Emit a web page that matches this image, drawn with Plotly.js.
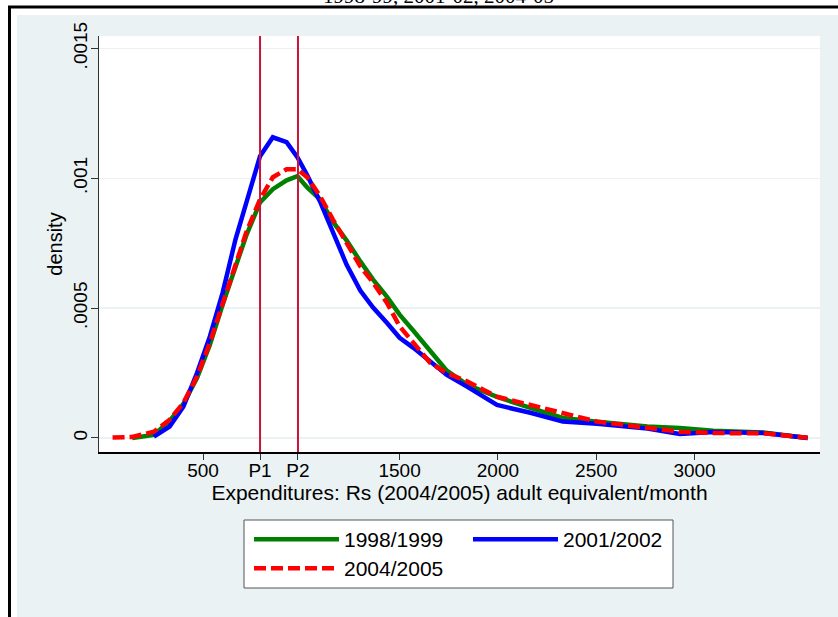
<!DOCTYPE html>
<html>
<head>
<meta charset="utf-8">
<script src="https://cdn.plot.ly/plotly-3.0.1.min.js"></script>
<style>html,body{margin:0;padding:0;background:#fff;}#chart{width:838px;height:617px;}</style>
</head>
<body>
<div id="chart"></div>
<script>
// Expenditure grid (Rs 2004/2005 adult equivalent / month)
const expenditure = [40,140,250,330,400,470,535,600,665,720,790,855,925,980,1030,1095,1160,1230,1300,1365,1435,1500,1570,1655,1740,1845,1995,2165,2330,2505,2760,2925,3095,3350,3575];
// Kernel density estimates
const density1998 = [null,0.000000,0.000012,0.000066,0.000131,0.000232,0.000359,0.000514,0.000656,0.000780,0.000907,0.000958,0.000992,0.001008,0.000965,0.000919,0.000834,0.000761,0.000680,0.000610,0.000544,0.000475,0.000413,0.000336,0.000259,0.000205,0.000158,0.000116,0.000077,0.000063,0.000044,0.000038,0.000028,0.000021,0.000000];
const density2001 = [null,null,0.000005,0.000044,0.000121,0.000251,0.000391,0.000560,0.000764,0.000907,0.001085,0.001158,0.001139,0.001081,0.001012,0.000911,0.000795,0.000668,0.000568,0.000502,0.000444,0.000386,0.000347,0.000295,0.000243,0.000197,0.000127,0.000097,0.000063,0.000055,0.000036,0.000015,0.000023,0.000019,0.000000];
const density2004 = [0.000002,0.000004,0.000024,0.000070,0.000135,0.000237,0.000367,0.000521,0.000675,0.000792,0.000919,0.001004,0.001035,0.001035,0.001004,0.000932,0.000842,0.000753,0.000661,0.000598,0.000521,0.000430,0.000366,0.000290,0.000250,0.000217,0.000159,0.000127,0.000093,0.000063,0.000039,0.000024,0.000019,0.000018,0.000001];
const seriesNames = ['1998/1999','2001/2002','2004/2005'];
const chartTitle = '1998-99, 2001-02, 2004-05';
// Poverty lines
const povertyLines = [790, 983];
const xTickVals = [500, 790, 983, 1500, 2000, 2500, 3000];
const xTickText = ['500','P1','P2','1500','2000','2500','3000'];
const yTickVals = [0, 0.0005, 0.001, 0.0015];
const yTickText = ['0','.0005','.001','.0015'];

// pixel helpers for frame decorations (plot area: x 99..820, y 36..452)
const L = 99, R = 820, T = 36, B = 452;
const px = v => (v - L) / (R - L);
const py = v => (B - v) / (B - T);

const font = 'Liberation Sans, Arial, sans-serif';

const traces = [
  {x: expenditure, y: density1998, name: seriesNames[0], mode: 'lines', line: {color: '#008000', width: 4.5}, legend: 'legend'},
  {x: expenditure, y: density2001, name: seriesNames[1], mode: 'lines', line: {color: '#0000ff', width: 4.5}, legend: 'legend2'},
  {x: expenditure, y: density2004, name: seriesNames[2], mode: 'lines', line: {color: '#ff0000', width: 4.5, dash: '12px,5px'}, legend: 'legend3'}
];

const shapes = [
  // white strips outside the graph region
  {type: 'rect', xref: 'paper', yref: 'paper', x0: px(0), x1: px(17), y0: py(0), y1: py(617), fillcolor: '#fff', line: {width: 0}, layer: 'below'},
  {type: 'rect', xref: 'paper', yref: 'paper', x0: px(0), x1: px(838), y0: py(0), y1: py(15), fillcolor: '#fff', line: {width: 0}, layer: 'below'},
  // black frame lines
  {type: 'line', xref: 'paper', yref: 'paper', x0: px(8), x1: px(838), y0: py(7), y1: py(7), line: {color: '#000', width: 3}},
  {type: 'line', xref: 'paper', yref: 'paper', x0: px(9.5), x1: px(9.5), y0: py(6), y1: py(617), line: {color: '#000', width: 3}},
  // legend box
  {type: 'rect', xref: 'paper', yref: 'paper', x0: px(244), x1: px(673), y0: py(520), y1: py(588), fillcolor: '#fff', line: {color: '#555', width: 1}, layer: 'below'}
];
povertyLines.forEach(p => shapes.push({type: 'line', xref: 'x', yref: 'paper', x0: p, x1: p, y0: 0, y1: 1, line: {color: '#c8143c', width: 2}, layer: 'above'}));

const legendBase = {xanchor: 'left', yanchor: 'top', orientation: 'v', bgcolor: 'rgba(0,0,0,0)', borderwidth: 0,
                    itemwidth: 85, font: {family: font, size: 21, color: '#000'}};

const layout = {
  width: 838, height: 617,
  margin: {l: L, r: 838 - R, t: T, b: 617 - B, autoexpand: false},
  paper_bgcolor: '#eaf2f3',
  plot_bgcolor: '#ffffff',
  annotations: [{
    text: chartTitle, xref: 'paper', yref: 'paper', x: px(438), y: py(-4), xanchor: 'center', yanchor: 'middle',
    showarrow: false, font: {family: 'Liberation Serif, Times New Roman, serif', size: 21, color: '#000'}
  }],
  xaxis: {
    range: [-29, 3638], tickvals: xTickVals, ticktext: xTickText,
    showgrid: false, zeroline: false, showline: true, linecolor: '#000', linewidth: 1.5,
    ticks: 'outside', ticklen: 6, tickcolor: '#333', tickwidth: 1, ticklabelstandoff: -5,
    tickfont: {family: font, size: 19, color: '#000'},
    title: {text: 'Expenditures: Rs (2004/2005) adult equivalent/month', font: {family: font, size: 21, color: '#000'}, standoff: 3},
    automargin: false, fixedrange: true
  },
  yaxis: {
    range: [-0.000054, 0.001548], tickvals: yTickVals, ticktext: yTickText, tickangle: -90,
    showgrid: true, gridcolor: '#eaf2f3', gridwidth: 1.5, zeroline: false,
    showline: true, linecolor: '#333', linewidth: 1,
    ticks: 'outside', ticklen: 7, tickcolor: '#333', tickwidth: 1, ticklabelstandoff: -4,
    tickfont: {family: font, size: 19, color: '#000'},
    title: {text: 'density', font: {family: font, size: 20, color: '#000'}, standoff: 2},
    automargin: false, fixedrange: true
  },
  showlegend: true,
  legend: Object.assign({}, legendBase, {x: px(249), y: py(519)}),
  legend2: Object.assign({}, legendBase, {x: px(468), y: py(519)}),
  legend3: Object.assign({}, legendBase, {x: px(249), y: py(548)}),
  shapes: shapes
};

Plotly.newPlot('chart', traces, layout, {displayModeBar: false, staticPlot: true});
</script>
</body>
</html>
